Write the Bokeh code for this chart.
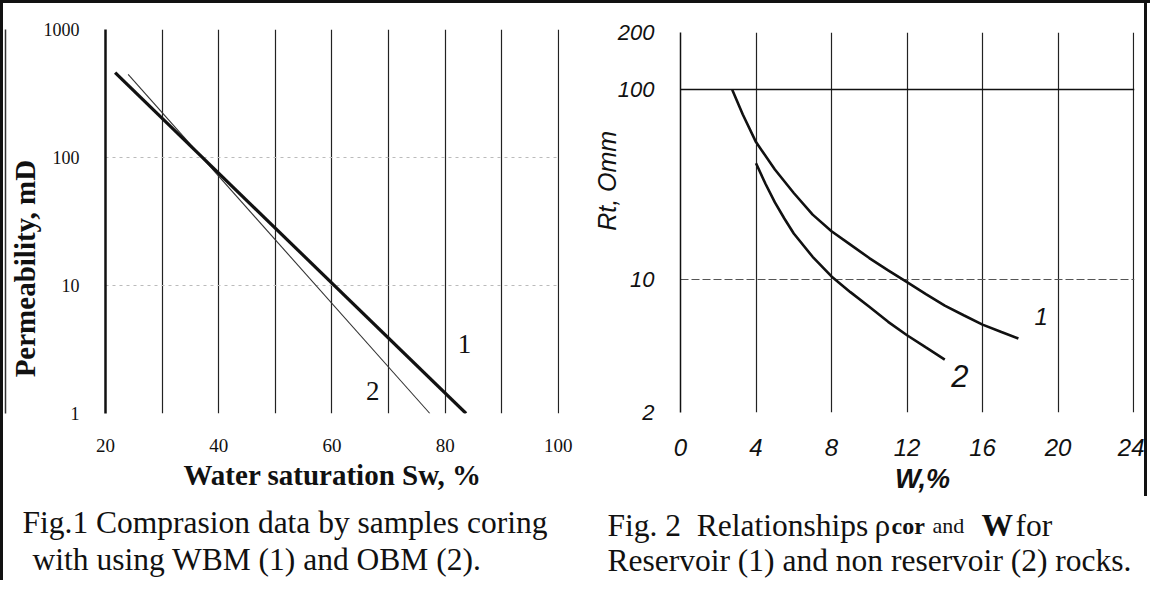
from bokeh.plotting import figure
from bokeh.layouts import row, column
from bokeh.models import FixedTicker, Grid, Label, CustomJSTickFormatter, Range1d, LogAxis
from bokeh.core.properties import value
from bokeh.embed import file_html
from bokeh.resources import INLINE

# ---------------- Fig.1 data ----------------
sw_wbm = [21.7, 83.7]            # curve 1 : WBM
perm_wbm = [461.0, 1.0]
sw_obm = [24.0, 77.3]            # curve 2 : OBM
perm_obm = [446.0, 1.0]
fig1_x_ticks = [20, 40, 60, 80, 100]
fig1_x_grid = [20, 30, 40, 50, 60, 70, 80, 90, 100]
fig1_y_ticks = [1, 10, 100, 1000]
fig1_curve_names = ["1", "2"]
fig1_name_x = [83.4, 67.2]
fig1_name_y = [3.5, 1.5]

# ---------------- Fig.2 data ----------------
w_res = [2.74, 3.3, 4, 5, 6, 7, 8, 9, 10, 11, 12, 13, 14, 15, 16, 17, 17.9]
rt_res = [100, 74, 53, 38, 28.6, 22, 18, 15.3, 13, 11.2, 9.7, 8.4, 7.3, 6.5, 5.8, 5.3, 4.9]
w_non = [4, 4.5, 5, 5.5, 6, 7, 8, 9, 10, 11, 12, 13, 14]
rt_non = [41, 32, 25.5, 21, 17.5, 13.2, 10.4, 8.6, 7.2, 6.0, 5.1, 4.4, 3.8]
fig2_x_ticks = [0, 4, 8, 12, 16, 20, 24]
fig2_y_ticks = [2, 10, 100, 200]
fig2_curve_names = ["1", "2"]
fig2_name_x = [19.1, 14.8]
fig2_name_y = [6.4, 3.1]

# ---------------- captions ----------------
cap1_lines = ["Fig.1 Comprasion data by samples coring", "with using WBM (1) and OBM (2)."]
cap2_line1 = ["Fig. 2\u00a0 Relationships", "\u03c1", "cor", "and", "W", "for"]
cap2_line2 = "Reservoir (1) and non reservoir (2) rocks."

SERIF = "Liberation Serif"
SANS = "Liberation Sans"
INK = "#111111"
NB = "\u00a0"
fmt = CustomJSTickFormatter(code="return String(Math.round(tick));")


def style_axis(ax, font, size, style, standoff, line_color=None, line_width=1.0):
    ax.axis_line_color = line_color
    ax.axis_line_width = line_width
    ax.major_tick_line_color = None
    ax.minor_tick_line_color = None
    ax.major_label_standoff = standoff
    ax.major_label_text_font = font
    ax.major_label_text_font_size = f"{size}px"
    ax.major_label_text_font_style = style
    ax.major_label_text_color = INK
    ax.axis_label_text_color = INK


def strip(width, height):
    s = figure(width=width, height=height, x_range=Range1d(0, width), y_range=Range1d(height, 0),
               output_backend="svg", toolbar_location=None,
               x_axis_location=None, y_axis_location=None,
               min_border_left=0, min_border_right=0, min_border_top=0, min_border_bottom=0)
    s.outline_line_color = None
    s.grid.visible = False
    s.border_fill_color = "white"
    return s


def cap(s, x, y, text, size=31.5, style="normal"):
    s.add_layout(Label(x=x, y=y, text=text, text_font=SERIF, text_font_size=f"{size}px",
                       text_font_style=style, text_baseline="alphabetic", text_align="left",
                       text_color=INK))


# ================= Fig.1 =================
p1 = figure(width=575, height=490, x_range=Range1d(20, 100.2), y_range=Range1d(1, 1000),
            y_axis_type="log", output_backend="svg", toolbar_location=None,
            min_border_left=102, min_border_right=19, min_border_top=26, min_border_bottom=78)
p1.outline_line_color = None
p1.border_fill_color = "white"

style_axis(p1.xaxis[0], SERIF, 19, "normal", 19)
p1.xaxis.ticker = FixedTicker(ticks=fig1_x_ticks)
p1.xaxis.axis_label = "Water saturation Sw, %"
p1.xaxis.axis_label_text_font = SERIF
p1.xaxis.axis_label_text_font_size = "29px"
p1.xaxis.axis_label_text_font_style = "bold"
p1.xaxis.axis_label_standoff = 4

style_axis(p1.yaxis[0], SERIF, 18, "normal", 20, INK, 2.5)
p1.yaxis.ticker = FixedTicker(ticks=fig1_y_ticks)
p1.yaxis.formatter = fmt
p1.yaxis.axis_label = "Permeability, mD" + NB * 13
p1.yaxis.axis_label_text_font = SERIF
p1.yaxis.axis_label_text_font_size = "29px"
p1.yaxis.axis_label_text_font_style = "bold"
p1.yaxis.axis_label_standoff = 0

# thin scanned frame line left of the y-axis title
frame_axis = LogAxis(ticker=FixedTicker(ticks=[]), axis_line_color="#333333", axis_line_width=1.5,
                     major_tick_out=0, minor_tick_out=0, major_tick_line_color=None,
                     minor_tick_line_color=None, major_label_text_font_size="0px",
                     major_label_standoff=0)
p1.add_layout(frame_axis, "left")

p1.xgrid.ticker = FixedTicker(ticks=fig1_x_grid)
p1.xgrid.bounds = (19, 101)
p1.xgrid.grid_line_color = "#222222"
p1.xgrid.grid_line_width = 1.2
p1.ygrid.ticker = FixedTicker(ticks=fig1_y_ticks)
p1.ygrid.bounds = (0.5, 2000)
p1.ygrid.grid_line_color = "#bbbbbb"
p1.ygrid.grid_line_dash = "3 4"
p1.ygrid.grid_line_width = 1.2

p1.line(sw_obm, perm_obm, line_color="#333333", line_width=1.1)
p1.line(sw_wbm, perm_wbm, line_color=INK, line_width=3.2)
p1.text(x=fig1_name_x, y=fig1_name_y, text=fig1_curve_names, text_font=value(SERIF),
        text_font_size="27px", text_align="center", text_baseline="middle", text_color=INK)

pc1 = strip(575, 87)
cap(pc1, 19, 29, cap1_lines[0])
cap(pc1, 29, 66, cap1_lines[1])

# ================= Fig.2 =================
p2 = figure(width=569, height=493, x_range=Range1d(0, 24.05), y_range=Range1d(2, 200),
            y_axis_type="log", output_backend="svg", toolbar_location=None,
            min_border_left=102, min_border_right=13, min_border_top=29, min_border_bottom=84,
            styles={"border-right": "3px solid #111111"})
p2.outline_line_color = None
p2.border_fill_color = "white"

style_axis(p2.xaxis[0], SANS, 24, "italic", 20)
p2.xaxis.ticker = FixedTicker(ticks=fig2_x_ticks)
p2.xaxis.axis_label = NB * 4 + "W,%"
p2.xaxis.axis_label_text_font = SANS
p2.xaxis.axis_label_text_font_size = "27px"
p2.xaxis.axis_label_text_font_style = "bold italic"
p2.xaxis.axis_label_standoff = 5

style_axis(p2.yaxis[0], SANS, 22, "italic", 20, INK, 1.5)
p2.yaxis.ticker = FixedTicker(ticks=fig2_y_ticks)
p2.yaxis.formatter = fmt
p2.yaxis.axis_label = NB * 12 + "Rt, Omm"
p2.yaxis.axis_label_text_font = SANS
p2.yaxis.axis_label_text_font_size = "25px"
p2.yaxis.axis_label_text_font_style = "italic"
p2.yaxis.axis_label_standoff = -6

p2.xgrid.ticker = FixedTicker(ticks=fig2_x_ticks)
p2.xgrid.bounds = (-1, 25)
p2.xgrid.grid_line_color = "#222222"
p2.xgrid.grid_line_width = 1.2
p2.ygrid.ticker = FixedTicker(ticks=[10])
p2.ygrid.grid_line_color = "#555555"
p2.ygrid.grid_line_dash = "8 3"
p2.ygrid.grid_line_width = 1.2
p2.add_layout(Grid(dimension=1, ticker=FixedTicker(ticks=[100]), grid_line_color=INK,
                   grid_line_width=1.6))
p2.add_layout(Grid(dimension=1, ticker=FixedTicker(ticks=[2, 200]), bounds=(1, 400),
                   grid_line_color="#aaaaaa", grid_line_dash="2 4", grid_line_width=1.4))

p2.line(w_res, rt_res, line_color=INK, line_width=2.6)
p2.line(w_non, rt_non, line_color=INK, line_width=2.6)
p2.text(x=fig2_name_x[:1], y=fig2_name_y[:1], text=fig2_curve_names[:1], text_font=value(SANS),
        text_font_size="24px", text_font_style="italic", text_align="center",
        text_baseline="middle", text_color=INK)
p2.text(x=fig2_name_x[1:], y=fig2_name_y[1:], text=fig2_curve_names[1:], text_font=value(SANS),
        text_font_size="31px", text_font_style="italic", text_align="center",
        text_baseline="middle", text_color=INK)

pc2 = strip(572, 84)
cap(pc2, 29, 29, cap2_line1[0])
cap(pc2, 296, 29, cap2_line1[1], 31.5, "normal")
cap(pc2, 313, 29, cap2_line1[2], 24, "bold")
cap(pc2, 354, 29, cap2_line1[3], 22)
cap(pc2, 403, 29, cap2_line1[4], 31.5, "bold")
cap(pc2, 437, 29, cap2_line1[5])
cap(pc2, 29, 64, cap2_line2)

left = column(row(p1), row(pc1))
right = column(row(p2), row(pc2))
layout = row(left, right,
             styles={"border-top": "3px solid #111111", "border-left": "3px solid #111111"})
open("out.html", "w").write(file_html(layout, INLINE))
